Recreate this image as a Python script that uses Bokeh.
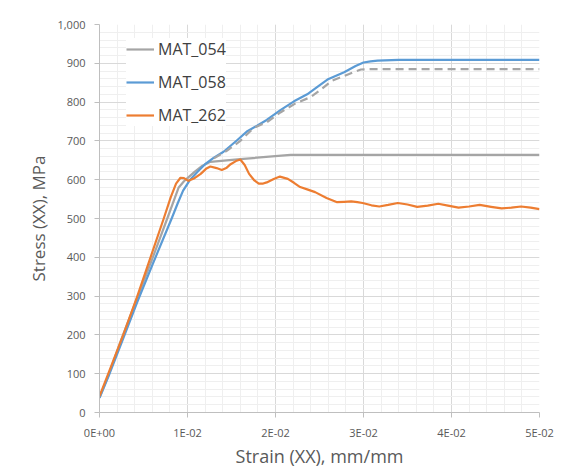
from bokeh.plotting import figure
from bokeh.models import (Range1d, FixedTicker, NumeralTickFormatter, CustomJSTickFormatter, Legend,
                          LegendItem, BoxAnnotation)
from bokeh.embed import file_html
from bokeh.resources import INLINE

# ---- data ----
mat054_strain = [0, 0.001, 0.0025, 0.0042, 0.0059, 0.0077, 0.009, 0.0096, 0.01, 0.0108, 0.0117, 0.0126,
                 0.016, 0.0217, 0.05]
mat054_stress = [38, 95, 190, 290, 390, 500, 580, 596, 604, 620, 636, 646, 653, 664, 664]

mat058_strain = [0, 0.001, 0.0026, 0.0043, 0.006, 0.0082, 0.0089, 0.0095, 0.0103, 0.0112, 0.012, 0.013,
                 0.0141, 0.0156, 0.0168, 0.0179, 0.019, 0.0206, 0.0221, 0.0236, 0.0248, 0.0259, 0.0278,
                 0.0291, 0.03, 0.0308, 0.0316, 0.034, 0.05]
mat058_stress = [38, 92, 185, 285, 380, 500, 540, 572, 600, 622, 640, 657, 672, 701, 725, 739, 754, 780,
                 802, 820, 840, 858, 877, 893, 902, 905, 907, 909, 909]

mat262_strain = [0, 0.001, 0.0027, 0.0043, 0.0058, 0.0073, 0.0081, 0.0087, 0.0092, 0.0096, 0.0101, 0.0108,
                 0.0115, 0.0121, 0.0126, 0.0133, 0.0139, 0.0144, 0.0149, 0.0155, 0.016, 0.0165, 0.017,
                 0.0176, 0.0181, 0.0186, 0.019, 0.0198, 0.0205, 0.0214, 0.0221, 0.0228, 0.0236, 0.0245,
                 0.0258, 0.027, 0.0278, 0.0286, 0.0293, 0.0299, 0.0309, 0.0318, 0.0328, 0.0339, 0.035,
                 0.0361, 0.0373, 0.0385, 0.0396, 0.0408, 0.042, 0.0432, 0.0445, 0.0457, 0.0468, 0.0479,
                 0.049, 0.05]
mat262_stress = [42, 100, 200, 300, 400, 500, 555, 590, 605, 604, 597, 604, 615, 628, 634, 630, 625, 630,
                 640, 648, 652, 638, 615, 598, 590, 590, 593, 602, 608, 602, 592, 581, 575, 568, 553, 542,
                 543, 544, 542, 540, 534, 531, 535, 540, 536, 530, 533, 538, 533, 528, 531, 535, 530, 526,
                 528, 531, 528, 524]

ref_strain = [0.013, 0.0145, 0.016, 0.0175, 0.019, 0.0206, 0.0223, 0.024, 0.0252, 0.0264, 0.0283, 0.0297,
              0.0305, 0.05]
ref_stress = [655, 675, 700, 733, 748, 774, 797, 813, 833, 855, 872, 884, 885, 885]

x_ticks = [0, 0.01, 0.02, 0.03, 0.04, 0.05]
y_ticks = [0, 100, 200, 300, 400, 500, 600, 700, 800, 900, 1000]

GRAY = "#a5a5a5"
BLUE = "#5b9bd5"
ORANGE = "#ed7d31"
FONT = "Open Sans"

p = figure(width=568, height=474, output_backend="svg", toolbar_location=None,
           x_range=Range1d(0, 0.05), y_range=Range1d(0, 1000),
           min_border_left=99, min_border_right=29, min_border_top=24, min_border_bottom=62)
p.outline_line_color = None
p.background_fill_color = "white"
p.border_fill_color = "white"

# outer chart-area border
p.add_layout(BoxAnnotation(left=12, right=700, top=7, bottom=700,
                           left_units="canvas", right_units="canvas",
                           top_units="canvas", bottom_units="canvas",
                           fill_alpha=0, line_color="#d9d9d9", line_width=1, level="underlay"))

# ticks
p.xaxis.ticker = FixedTicker(ticks=x_ticks, minor_ticks=[i * 0.002 for i in range(26)])
p.yaxis.ticker = FixedTicker(ticks=y_ticks, minor_ticks=list(range(0, 1001, 20)))
p.yaxis.formatter = NumeralTickFormatter(format="0,0")
p.xaxis.formatter = CustomJSTickFormatter(code="""
const s = tick.toExponential(0);
let parts = s.split('e');
let m = parts[0];
let e = parts[1];
const sign = e[0] === '-' ? '-' : '+';
e = e.replace(/[+-]/, '');
if (e.length < 2) { e = '0' + e; }
return m + 'E' + sign + e;
""")

for ax in (p.xaxis[0], p.yaxis[0]):
    ax.axis_line_color = "#bfbfbf"
    ax.major_tick_line_color = "#bfbfbf"
    ax.major_tick_out = 5
    ax.major_tick_in = 0
    ax.minor_tick_line_color = None
    ax.major_label_text_font = FONT
    ax.major_label_text_font_size = "11px"
    ax.major_label_text_color = "#595959"
    ax.axis_label_text_font = FONT
    ax.axis_label_text_color = "#595959"
    ax.axis_label_text_font_style = "normal"

p.xaxis.major_label_standoff = 7
p.yaxis.major_label_standoff = 9
p.xaxis.axis_label = "Strain (XX), mm/mm"
p.yaxis.axis_label = "Stress (XX), MPa"
p.xaxis.axis_label_text_font_size = "18px"
p.yaxis.axis_label_text_font_size = "17px"
p.xaxis.axis_label_standoff = 1
p.yaxis.axis_label_standoff = 4

for g in (p.xgrid[0], p.ygrid[0]):
    g.grid_line_color = "#d9d9d9"
    g.grid_line_width = 1
    g.minor_grid_line_color = "#efefef"
    g.minor_grid_line_width = 1

r054 = p.line(mat054_strain, mat054_stress, line_color=GRAY, line_width=2.2, line_join="round")
r058 = p.line(mat058_strain, mat058_stress, line_color=BLUE, line_width=2.2, line_join="round")
r262 = p.line(mat262_strain, mat262_stress, line_color=ORANGE, line_width=2.2, line_join="round")
rref = p.line(ref_strain, ref_stress, line_color=GRAY, line_width=2.2, line_dash="8 5")

legend = Legend(items=[LegendItem(label="MAT_054", renderers=[r054]),
                       LegendItem(label="MAT_058", renderers=[r058]),
                       LegendItem(label="MAT_262", renderers=[r262])],
                location=(27, 286), orientation="vertical")
legend.label_text_font = FONT
legend.label_text_font_size = "16px"
legend.label_text_color = "#404040"
legend.glyph_width = 28
legend.glyph_height = 20
legend.label_height = 20
legend.spacing = 11
legend.padding = 8
legend.label_standoff = 4
legend.border_line_color = None
legend.background_fill_color = "white"
legend.background_fill_alpha = 1.0
p.add_layout(legend, "center")

open("out.html", "w").write(file_html(p, INLINE))
